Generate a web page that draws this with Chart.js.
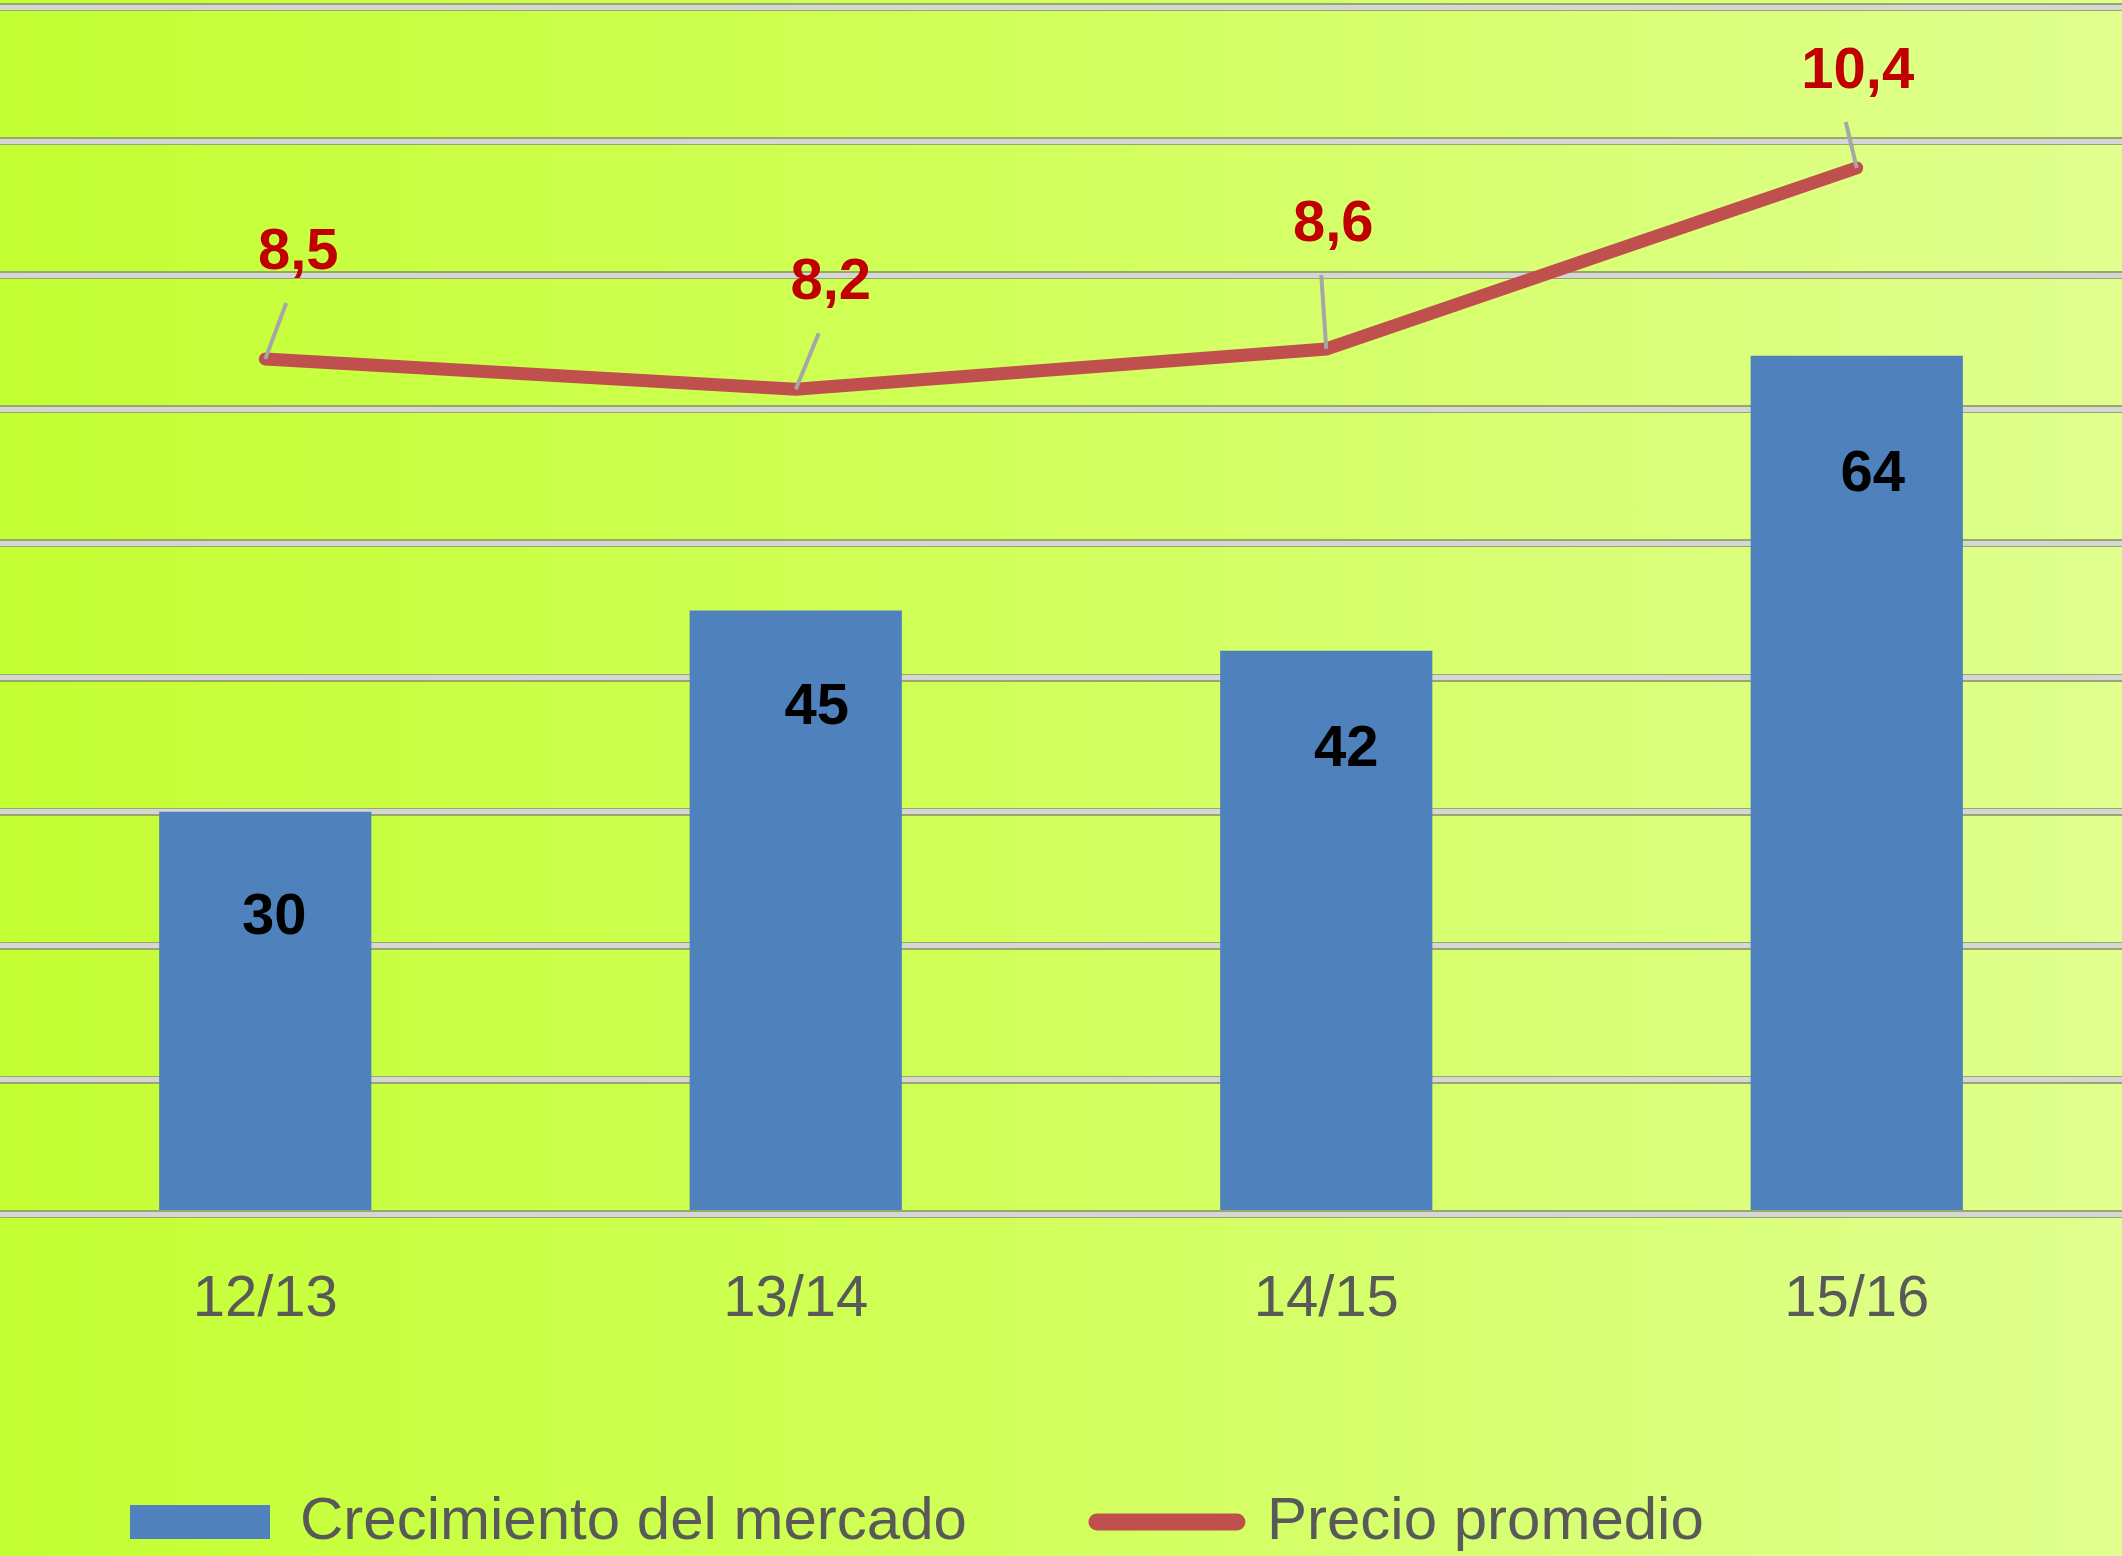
<!DOCTYPE html>
<html>
<head>
<meta charset="utf-8">
<script src="https://cdn.jsdelivr.net/npm/chart.js@4.4.1/dist/chart.umd.min.js"></script>
<style>
  html, body { margin: 0; padding: 0; }
  body {
    width: 2122px;
    height: 1556px;
    overflow: hidden;
    background: linear-gradient(90deg, #c4ff33 0%, #d0ff58 45%, #e0ff8f 100%);
  }
  canvas { display: block; }
</style>
</head>
<body>
<canvas id="market_chart" width="2122" height="1556"></canvas>
<script>
// Season labels and the two series
const seasons = ['12/13', '13/14', '14/15', '15/16'];
const marketGrowth = [30, 45, 42, 64];
const avgPrice = [8.5, 8.2, 8.6, 10.4];

// axis ranges (left axis for bars, hidden right axis for the price line)
const growthMax = 90;
const growthStep = 10;
const priceMax = 12;

const seriesNames = ['Crecimiento del mercado', 'Precio promedio'];

const barColor = '#4f81bd';
const lineColor = '#c0504d';
const textGrey = '#595959';

// label placement relative to the mark (Excel moved them by hand)
const barLabelShift = [[9, 106], [21, 97], [20, 99], [16, 119]];
const priceLabelShift = [[33, -106], [35, -106], [7, -124], [1, -96]];

Chart.defaults.font.family = "'Liberation Sans', Arial, sans-serif";

const fmtComma = v => String(v).replace('.', ',');

// Draws the value labels and the little grey leader lines
const valueLabels = {
    id: 'valueLabels',
    afterDatasetsDraw(chart) {
        const ctx = chart.ctx;
        ctx.save();
        ctx.textAlign = 'center';
        ctx.textBaseline = 'middle';
        ctx.font = "bold 58px 'Liberation Sans', Arial, sans-serif";

        // bar values, inside the bar under its top
        chart.getDatasetMeta(0).data.forEach((bar, i) => {
            const [dx, dy] = barLabelShift[i];
            ctx.fillStyle = '#000000';
            ctx.fillText(String(marketGrowth[i]), bar.x + dx, bar.y + dy);
        });

        // price values with leader lines
        chart.getDatasetMeta(1).data.forEach((pt, i) => {
            const [dx, dy] = priceLabelShift[i];
            const lx = pt.x + dx;
            const ly = pt.y + dy;
            ctx.strokeStyle = '#a6a6a6';
            ctx.lineWidth = 4;
            ctx.lineCap = 'butt';
            ctx.beginPath();
            ctx.moveTo(pt.x, pt.y);
            ctx.lineTo(lx - 12, ly + 50);
            ctx.stroke();
            ctx.fillStyle = '#c00000';
            ctx.fillText(fmtComma(avgPrice[i]), lx, ly);
        });
        ctx.restore();
    }
};

const gridScale = (color, width) => ({
    min: 0,
    max: growthMax,
    ticks: { display: false, stepSize: growthStep },
    grid: { color: color, lineWidth: width, drawTicks: false },
    border: { display: false }
});

new Chart(document.getElementById('market_chart'), {
    type: 'bar',
    data: {
        labels: seasons,
        datasets: [
            {
                type: 'bar',
                label: seriesNames[0],
                data: marketGrowth,
                backgroundColor: barColor,
                borderWidth: 0,
                categoryPercentage: 0.8,
                barPercentage: 0.5,
                yAxisID: 'y',
                order: 2
            },
            {
                type: 'line',
                label: seriesNames[1],
                data: avgPrice,
                borderColor: lineColor,
                backgroundColor: lineColor,
                borderWidth: 13,
                borderCapStyle: 'round',
                borderJoinStyle: 'miter',
                tension: 0,
                pointRadius: 0,
                fill: false,
                yAxisID: 'y2',
                order: 1
            }
        ]
    },
    options: {
        responsive: false,
        animation: false,
        layout: {
            padding: { top: 7, bottom: -6, left: 0, right: 0 }
        },
        scales: {
            x: {
                grid: { display: false, drawTicks: false },
                border: { display: false },
                ticks: {
                    padding: 51,
                    color: textGrey,
                    font: { size: 58 }
                },
                // fixed gap between the plot and the legend
                afterFit: scale => { scale.height = 148; }
            },
            // double grid line: darker wide one, then a light one on top
            y: gridScale('#98a86a', 8),
            yInner: gridScale('#d6d6d6', 5),
            y2: {
                display: false,
                min: 0,
                max: priceMax
            }
        },
        plugins: {
            tooltip: { enabled: false },
            legend: {
                position: 'bottom',
                align: 'start',
                labels: {
                    color: textGrey,
                    font: { size: 60 },
                    usePointStyle: true,
                    pointStyleWidth: 140,
                    boxHeight: 34,
                    padding: 130,
                    generateLabels: chart => chart.data.datasets.map((ds, i) => ({
                        text: ds.label,
                        datasetIndex: i,
                        fillStyle: i === 0 ? barColor : lineColor,
                        strokeStyle: lineColor,
                        lineWidth: i === 0 ? 0 : 17,
                        lineCap: 'round',
                        pointStyle: i === 0 ? 'rect' : 'line',
                        fontColor: textGrey,
                        hidden: false
                    }))
                }
            }
        }
    },
    plugins: [valueLabels]
});
</script>
</body>
</html>
